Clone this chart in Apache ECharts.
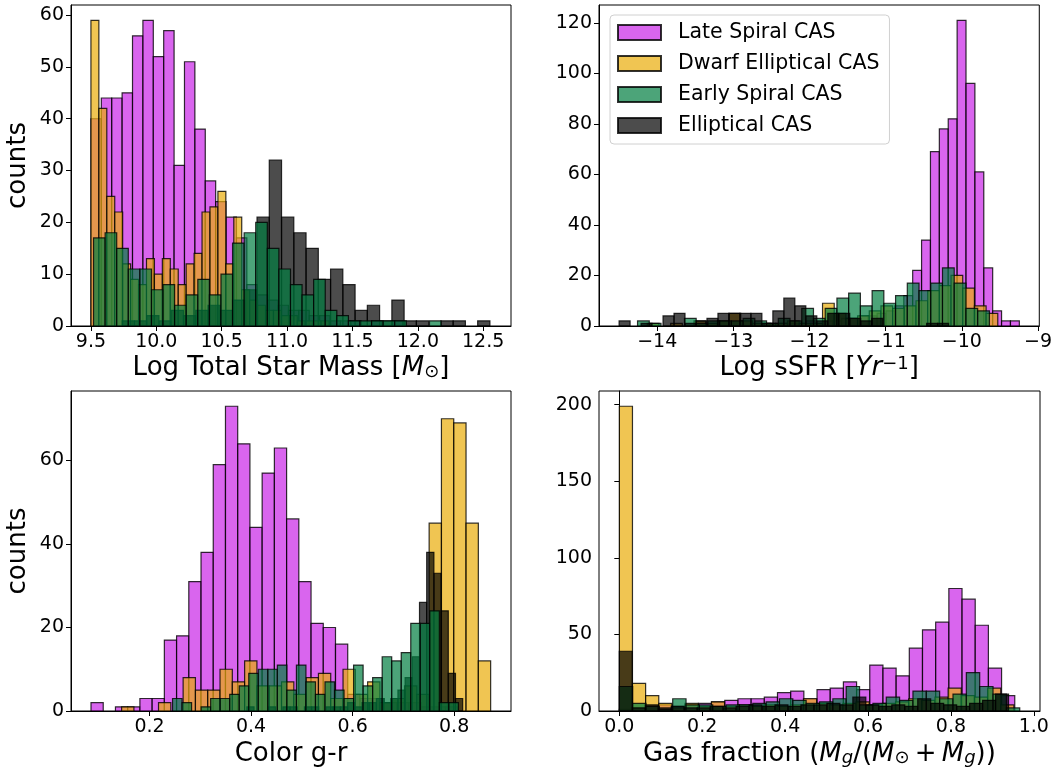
<!DOCTYPE html>
<html>
<head>
<meta charset="utf-8">
<script src="https://cdn.jsdelivr.net/npm/echarts@6/dist/echarts.min.js"></script>
<style>
  html, body { margin: 0; padding: 0; background: #fff; }
  #chart { width: 1055px; height: 772px; }
</style>
</head>
<body>
<div id="chart"></div>
<script>
var classNames = ['Late Spiral CAS', 'Dwarf Elliptical CAS', 'Early Spiral CAS', 'Elliptical CAS'];

// --- panel 1: log total star mass (each class has its own 30 bins) ---
var massLateStart = 9.5, massLateWidth = 0.0795;
var massLate = [40,44,44,45,56,59,52,57,31,51,38,28,24,21,17,8,6,5,4,3,3,2,2,1,1,1,0,1,0,1];
var massDwarfStart = 9.5, massDwarfWidth = 0.0607;
var massDwarf = [59,42,25,22,12,9,8,13,10,13,11,8,12,14,22,23,26,12,21,7,5,4,3,3,2,2,1,1,1,1];
var massEarlyStart = 9.52, massEarlyWidth = 0.0886;
var massEarly = [17,18,15,11,11,7,8,4,6,9,6,10,16,18,20,15,11,8,6,9,3,2,1,1,1,1,1,0,0,1];
var massEllStart = 9.739, massEllWidth = 0.09375;
var massEll = [1,1,2,1,3,2,3,4,3,5,7,21,32,21,18,15,9,11,8,3,4,1,5,1,1,0,1,1,0,1];

// --- panel 2: log sSFR ---
var ssfrLateStart = -12.746, ssfrLateWidth = 0.1167;
var ssfrLate = [0,1,0,1,1,1,2,1,2,2,3,3,4,4,5,6,8,12,22,34,69,78,82,121,96,61,23,6,2,2];
var ssfrDwarfStart = -14.13, ssfrDwarfWidth = 0.1534;
var ssfrDwarf = [1,0,1,0,2,1,2,5,2,1,1,1,2,1,1,9,5,3,4,6,8,7,8,10,14,16,20,15,8,5];
var ssfrEarlyStart = -14.258, ssfrEarlyWidth = 0.154;
var ssfrEarly = [2,1,0,0,3,1,2,2,2,3,2,1,3,2,7,3,7,11,13,8,14,9,12,17,14,17,23,17,7,6];
var ssfrEllStart = -14.5, ssfrEllWidth = 0.1442;
var ssfrEll = [2,0,1,0,4,5,1,2,3,5,5,5,5,1,6,11,8,4,2,5,5,3,2,3,0,0,0,0,1,1];

// --- panel 3: colour g-r ---
var colorLateStart = 0.0847, colorLateWidth = 0.02408;
var colorLate = [2,0,1,1,3,3,17,18,31,38,59,73,64,44,57,63,46,31,21,20,16,4,3,3,2,2,2,1,1,1];
var colorDwarfStart = 0.145, colorDwarfWidth = 0.02423;
var colorDwarf = [1,0,0,2,0,8,5,5,10,7,12,6,6,7,4,8,9,3,10,4,7,2,3,6,4,45,70,69,45,12];
var colorEarlyStart = 0.2453, colorEarlyWidth = 0.01877;
var colorEarly = [3,2,0,1,3,3,4,6,9,10,10,11,5,11,7,4,7,5,3,11,6,8,13,12,14,21,21,24,2,2];
var colorEllStart = 0.3917, colorEllWidth = 0.01417;
var colorEll = [1,0,0,1,0,1,1,0,1,1,0,1,1,1,2,1,2,2,3,2,3,5,8,13,26,38,33,24,9,3];

// --- panel 4: gas fraction ---
var gasLateStart = 0, gasLateWidth = 0.0318;
var gasLate = [1,2,3,4,3,4,5,6,7,8,8,9,12,13,8,14,15,19,14,30,28,23,41,53,58,80,73,56,28,10];
var gasDwarfStart = 0, gasDwarfWidth = 0.03173;
var gasDwarf = [199,18,10,5,2,5,3,6,3,4,3,4,3,4,8,5,4,5,6,4,5,6,8,7,9,15,10,9,15,4];
var gasEarlyStart = 0, gasEarlyWidth = 0.0322;
var gasEarly = [16,5,3,1,8,4,4,3,4,4,5,6,8,7,5,6,8,16,4,5,9,7,13,13,8,11,25,16,11,2];
var gasEllStart = 0, gasEllWidth = 0.0313;
var gasEll = [39,2,4,2,3,2,2,3,2,3,4,3,4,3,4,4,5,4,9,4,3,4,3,8,5,4,3,5,7,11];

// tick values
var massTicks = [9.5, 10, 10.5, 11, 11.5, 12, 12.5];
var ssfrTicks = [-14, -13, -12, -11, -10, -9];
var colorTicks = [0.2, 0.4, 0.6, 0.8];
var gasTicks = [0, 0.2, 0.4, 0.6, 0.8, 1.0];
var massCountTicks = [0, 10, 20, 30, 40, 50, 60];
var ssfrCountTicks = [0, 20, 40, 60, 80, 100, 120];
var colorCountTicks = [0, 20, 40, 60];
var gasCountTicks = [0, 50, 100, 150, 200];

var colors = {
    'Late Spiral CAS': 'rgba(201,36,231,0.7)',
    'Dwarf Elliptical CAS': 'rgba(234,172,8,0.7)',
    'Early Spiral CAS': 'rgba(0,125,64,0.7)',
    'Elliptical CAS': 'rgba(0,0,0,0.7)'
};

function toBins(start, width, counts) {
    var out = [];
    counts.forEach(function (c, i) {
        if (c > 0) out.push([start + i * width, start + (i + 1) * width, c]);
    });
    return out;
}

function renderBar(params, api) {
    var p0 = api.coord([api.value(0), 0]);
    var p1 = api.coord([api.value(1), api.value(2)]);
    return {
        type: 'rect',
        shape: { x: p0[0], y: p1[1], width: p1[0] - p0[0], height: p0[1] - p1[1] },
        style: { fill: api.visual('color'), stroke: 'rgba(0,0,0,0.8)', lineWidth: 1.2 }
    };
}

function hist(name, idx, start, width, counts) {
    return {
        type: 'custom',
        name: name,
        xAxisIndex: idx,
        yAxisIndex: idx,
        renderItem: renderBar,
        encode: { x: [0, 1], y: 2 },
        itemStyle: { color: colors[name], borderColor: 'rgba(0,0,0,0.8)', borderWidth: 1 },
        data: toBins(start, width, counts)
    };
}

var font = 'DejaVu Sans';
var rich = {
    i: { fontFamily: font, fontStyle: 'italic', fontSize: 26, color: '#000' },
    sub: { fontFamily: font, fontSize: 18, color: '#000', verticalAlign: 'bottom', lineHeight: 16 },
    isub: { fontFamily: font, fontStyle: 'italic', fontSize: 18, color: '#000', verticalAlign: 'bottom', lineHeight: 16 },
    sup: { fontFamily: font, fontSize: 18, color: '#000', verticalAlign: 'top', lineHeight: 16 }
};

function xAxis(idx, min, max, ticks, fmt, name, gap) {
    return {
        type: 'value', gridIndex: idx, min: min, max: max,
        name: name, nameLocation: 'middle', nameGap: gap,
        nameTextStyle: { fontFamily: font, fontSize: 26, color: '#000', rich: rich },
        axisLine: { show: true, lineStyle: { color: '#000', width: 1 } },
        axisTick: { show: true, customValues: ticks, length: 5, lineStyle: { color: '#000' } },
        axisLabel: { customValues: ticks, formatter: fmt, fontFamily: font, fontSize: 19, color: '#000', margin: 7 },
        splitLine: { show: false }
    };
}

function yAxis(idx, max, ticks, name) {
    return {
        type: 'value', gridIndex: idx, min: 0, max: max,
        name: name, nameLocation: 'middle', nameGap: 40,
        nameTextStyle: { fontFamily: font, fontSize: 26, color: '#000' },
        axisLine: { show: true, lineStyle: { color: '#000', width: 1 } },
        axisTick: { show: true, customValues: ticks, length: 5, lineStyle: { color: '#000' } },
        axisLabel: { customValues: ticks, fontFamily: font, fontSize: 19, color: '#000', margin: 7 },
        splitLine: { show: false }
    };
}

function oneDec(v) { return v.toFixed(1); }
function minusInt(v) { return v < 0 ? '\u2212' + Math.abs(v) : String(v); }

var gridBase = { show: true, borderColor: '#000', borderWidth: 1, backgroundColor: 'transparent', containLabel: false };

var option = {
    animation: false,
    backgroundColor: '#fff',
    grid: [
        Object.assign({ left: 71, width: 440, top: 5, height: 321 }, gridBase),
        Object.assign({ left: 599, width: 441, top: 5, height: 321 }, gridBase),
        Object.assign({ left: 71, width: 440, top: 391, height: 320 }, gridBase),
        Object.assign({ left: 599, width: 441, top: 391, height: 320 }, gridBase)
    ],
    legend: {
        data: classNames,
        orient: 'vertical',
        left: 610, top: 15,
        padding: [7, 10, 8, 7],
        itemGap: 10,
        itemWidth: 43, itemHeight: 15,
        icon: 'rect',
        selectedMode: false,
        backgroundColor: 'rgba(255,255,255,0.8)',
        borderColor: '#d0d0d0', borderWidth: 1, borderRadius: 4,
        textStyle: { fontFamily: font, fontSize: 20.5, color: '#000', lineHeight: 20, padding: [0, 0, 0, 12] }
    },
    xAxis: [
        xAxis(0, 9.3476, 12.7127, massTicks, oneDec, 'Log Total Star Mass [{i|M}{sub|\u2299}]', 29),
        xAxis(1, -14.764, -8.983, ssfrTicks, minusInt, 'Log sSFR [{i|Yr}{sup|\u22121}]', 29),
        xAxis(2, 0.0453, 0.912, colorTicks, oneDec, 'Color g-r', 30),
        xAxis(3, -0.049, 1.0149, gasTicks, oneDec, 'Gas fraction ({i|M}{isub|g}/({i|M}{sub|\u2299}\u2009+\u2009{i|M}{isub|g}))', 30)
    ],
    yAxis: [
        yAxis(0, 61.95, massCountTicks, 'counts'),
        yAxis(1, 127.05, ssfrCountTicks, ''),
        yAxis(2, 76.65, colorCountTicks, 'counts'),
        yAxis(3, 208.95, gasCountTicks, '')
    ],
    series: [
        hist('Late Spiral CAS', 0, massLateStart, massLateWidth, massLate),
        hist('Dwarf Elliptical CAS', 0, massDwarfStart, massDwarfWidth, massDwarf),
        hist('Elliptical CAS', 0, massEllStart, massEllWidth, massEll),
        hist('Early Spiral CAS', 0, massEarlyStart, massEarlyWidth, massEarly),

        hist('Late Spiral CAS', 1, ssfrLateStart, ssfrLateWidth, ssfrLate),
        hist('Dwarf Elliptical CAS', 1, ssfrDwarfStart, ssfrDwarfWidth, ssfrDwarf),
        hist('Early Spiral CAS', 1, ssfrEarlyStart, ssfrEarlyWidth, ssfrEarly),
        hist('Elliptical CAS', 1, ssfrEllStart, ssfrEllWidth, ssfrEll),

        hist('Late Spiral CAS', 2, colorLateStart, colorLateWidth, colorLate),
        hist('Dwarf Elliptical CAS', 2, colorDwarfStart, colorDwarfWidth, colorDwarf),
        hist('Elliptical CAS', 2, colorEllStart, colorEllWidth, colorEll),
        hist('Early Spiral CAS', 2, colorEarlyStart, colorEarlyWidth, colorEarly),

        hist('Late Spiral CAS', 3, gasLateStart, gasLateWidth, gasLate),
        hist('Dwarf Elliptical CAS', 3, gasDwarfStart, gasDwarfWidth, gasDwarf),
        hist('Early Spiral CAS', 3, gasEarlyStart, gasEarlyWidth, gasEarly),
        hist('Elliptical CAS', 3, gasEllStart, gasEllWidth, gasEll)
    ]
};

var myChart = echarts.init(document.getElementById('chart'));
myChart.setOption(option);
</script>
</body>
</html>
